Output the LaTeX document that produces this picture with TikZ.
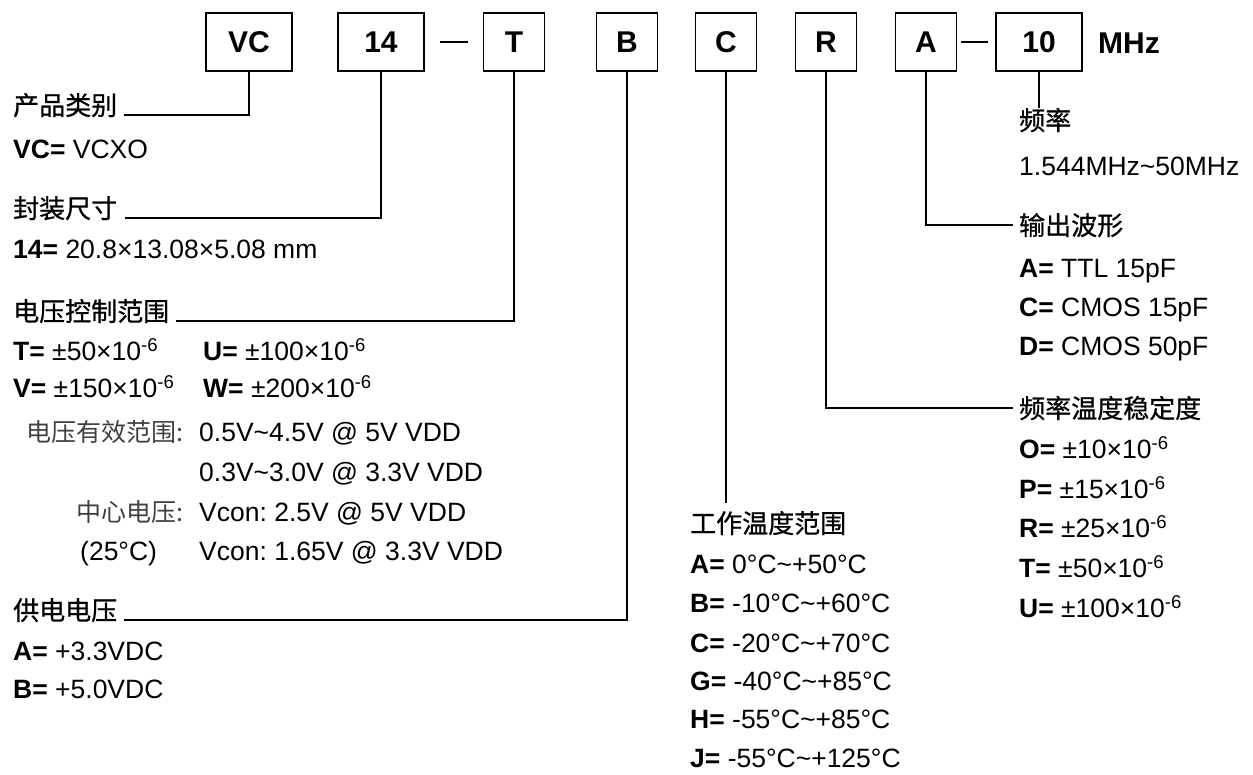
\documentclass[tikz,border=0pt]{standalone}
\usepackage{fontspec}
\setmainfont{Liberation Sans}
\newfontfamily\cjk{Noto Sans CJK SC}
\newfontfamily\cjkh{Noto Sans CJK SC}[FakeBold=0.8]
\newcommand\mytilde{\textasciitilde}
\newcommand\ppmval[1]{±#1×10\textsuperscript{-6}}
\frenchspacing
\begin{document}
\begin{tikzpicture}[x=1bp,y=-1bp,
  codebox/.style={draw,line width=1.5bp,minimum height=58bp,inner sep=0pt,font=\fontsize{30bp}{30bp}\selectfont\bfseries},
  widebox/.style={codebox,minimum width=86bp},
  narrowbox/.style={codebox,minimum width=61bp},
  txt/.style={anchor=base west,inner sep=0pt,font=\fontsize{26.5bp}{30bp}\selectfont},
  head/.style={anchor=base west,inner sep=0pt,font=\fontsize{26bp}{30bp}\selectfont\cjkh},
  glab/.style={anchor=base east,inner sep=0pt,font=\fontsize{25bp}{30bp}\selectfont\cjk,text=black!75},
  conn/.style={line width=1.5bp}]
\useasboundingbox (0,0) rectangle (1253,775);

% code boxes
\node[widebox]   (bVC) at (249,42)  {VC};
\node[widebox]   (b14) at (381,42)  {14};
\node[narrowbox] (bT)  at (514,42)  {T};
\node[narrowbox] (bB)  at (627,42)  {B};
\node[narrowbox] (bC)  at (726,42)  {C};
\node[narrowbox] (bR)  at (826,42)  {R};
\node[narrowbox] (bA)  at (926,42)  {A};
\node[widebox]   (b10) at (1039,42) {10};
\node[font=\fontsize{30bp}{30bp}\selectfont\bfseries,inner sep=0pt] (mhz) at (1129,43) {MHz};

\draw[conn] ([xshift=15bp]b14.east) -- ([xshift=-15bp]bT.west);
\draw[conn] ([xshift=4bp]bA.east) -- ([xshift=-7bp]b10.west);

% left column
\node[head] (h1) at (13,115) {产品类别};
\node[txt] at (13,158) {\textbf{VC=} VCXO};
\node[head] (h2) at (13,218) {封装尺寸};
\node[txt] at (13,258) {\textbf{14=} 20.8×13.08×5.08 mm};
\node[head] (h3) at (13,321) {电压控制范围};
\node[txt] at (13,360) {\textbf{T=} \ppmval{50}};
\node[txt] at (203,360) {\textbf{U=} \ppmval{100}};
\node[txt] at (13,397) {\textbf{V=} \ppmval{150}};
\node[txt] at (203,397) {\textbf{W=} \ppmval{200}};
\node[glab] at (184,441) {电压有效范围:};
\node[txt] at (199,441) {0.5V\mytilde 4.5V @ 5V VDD};
\node[txt] at (199,481) {0.3V\mytilde 3.0V @ 3.3V VDD};
\node[glab] at (184,521) {中心电压:};
\node[txt] at (199,521) {Vcon: 2.5V @ 5V VDD};
\node[txt] at (80,560) {(25°C)};
\node[txt] at (199,560) {Vcon: 1.65V @ 3.3V VDD};
\node[head] (h4) at (13,620) {供电电压};
\node[txt] at (13,660) {\textbf{A=} +3.3VDC};
\node[txt] at (13,698) {\textbf{B=} +5.0VDC};

% bottom middle column
\node[head] (hC) at (690,533) {工作温度范围};
\node[txt] at (690,573) {\textbf{A=} 0°C\mytilde+50°C};
\node[txt] at (690,612) {\textbf{B=} -10°C\mytilde+60°C};
\node[txt] at (690,652) {\textbf{C=} -20°C\mytilde+70°C};
\node[txt] at (690,690) {\textbf{G=} -40°C\mytilde+85°C};
\node[txt] at (690,728) {\textbf{H=} -55°C\mytilde+85°C};
\node[txt] at (690,767) {\textbf{J=} -55°C\mytilde+125°C};

% right column
\node[head] (hF) at (1019,130) {频率};
\node[txt] at (1019,175) {1.544MHz\mytilde 50MHz};
\node[head] (hA) at (1019,235) {输出波形};
\node[txt] at (1019,277) {\textbf{A=} TTL 15pF};
\node[txt] at (1019,316) {\textbf{C=} CMOS 15pF};
\node[txt] at (1019,355) {\textbf{D=} CMOS 50pF};
\node[head] (hR) at (1019,418) {频率温度稳定度};
\node[txt] at (1019,458) {\textbf{O=} \ppmval{10}};
\node[txt] at (1019,498) {\textbf{P=} \ppmval{15}};
\node[txt] at (1019,537) {\textbf{R=} \ppmval{25}};
\node[txt] at (1019,577) {\textbf{T=} \ppmval{50}};
\node[txt] at (1019,617) {\textbf{U=} \ppmval{100}};

% connectors
\draw[conn] (bVC.south) |- ([xshift=7bp]h1.base east);
\draw[conn] (b14.south) |- ([xshift=8bp]h2.base east);
\draw[conn] (bT.south)  |- ([xshift=7bp]h3.base east);
\draw[conn] (bB.south)  |- ([xshift=7bp]h4.base east);
\coordinate (cEnd) at ([yshift=8bp]hC.north);
\draw[conn] (bC.south) -- (bC.south |- cEnd);
\draw[conn] (bR.south) |- ([xshift=-6bp]hR.west);
\draw[conn] (bA.south) |- ([xshift=-6bp]hA.west);
\draw[conn] (b10.south) -- (b10.south |- hF.north);
\end{tikzpicture}
\end{document}
